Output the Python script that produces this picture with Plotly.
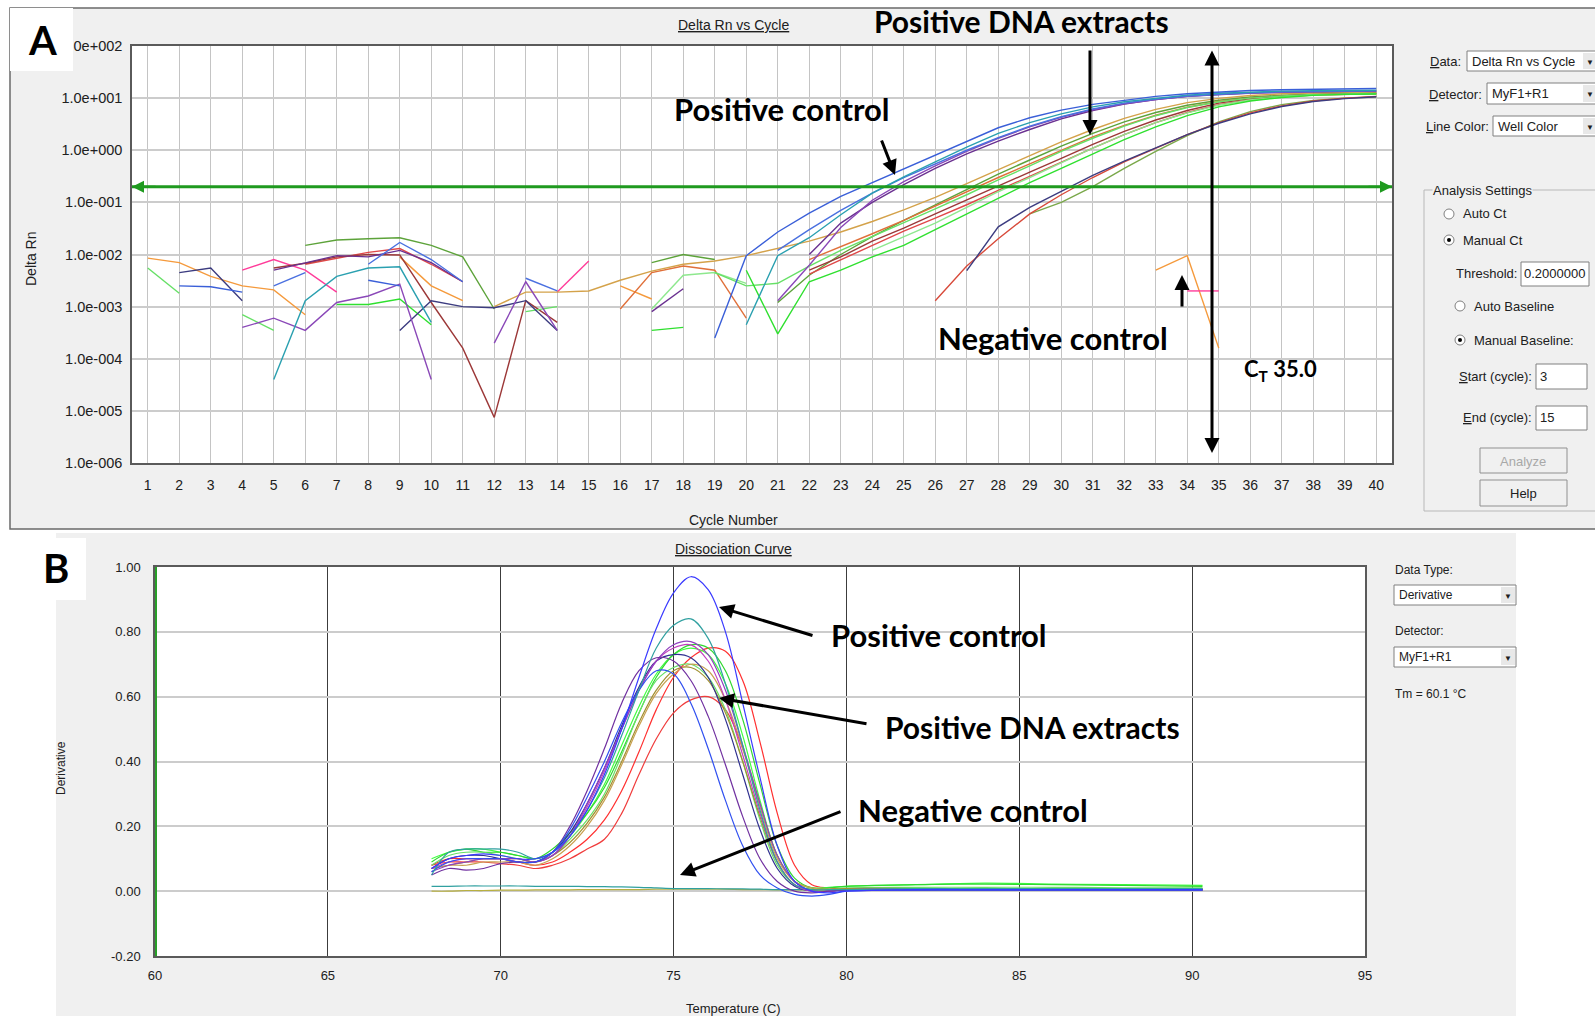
import plotly.graph_objects as go

W, H = 1595, 1016

# ---------------- DATA : panel A (Delta Rn vs Cycle) ----------------
cycles = list(range(1, 41))
a_tick_vals = [1e-6, 1e-5, 1e-4, 1e-3, 1e-2, 1e-1, 1e0, 1e1, 1e2]
a_tick_text = ["1.0e-006", "1.0e-005", "1.0e-004", "1.0e-003", "1.0e-002",
               "1.0e-001", "1.0e+000", "1.0e+001", "1.0e+002"]
threshold = 0.2
ct_label = "35.0"

A_pc_blue = [None, 0.0025, 0.0024, 0.0019, None, None, None, 0.0032, 0.0025, None,
             None, None, None, None, None, None, None, None, 0.00025, 0.0095,
             0.027, 0.062, 0.13, 0.24, 0.43, 0.8, 1.5, 2.7, 4.2, 5.9,
             7.6, 9.2, 10.8, 12.1, 13.2, 14.0, 14.5, 14.9, 15.1, 15.3]
A_teal = [None, None, None, None, 0.00004, 0.0013, 0.0038, 0.0055, 0.0058, 0.0005,
          None, None, None, None, None, None, None, None, None, 0.00045,
          0.0095, 0.021, 0.058, 0.15, 0.31, 0.6, 1.15, 2.1, 3.4, 5.0,
          6.8, 8.5, 10.0, 11.4, 12.4, 13.1, 13.6, 13.9, 14.1, 14.2]
A_purple = [None, None, None, 0.0004, 0.0006, 0.00035, 0.0012, 0.0016, 0.0027, 0.00004,
            None, 0.0002, 0.0030, 0.00035, None, None, None, None, None, None,
            0.0013, 0.0062, 0.033, 0.11, 0.25, 0.5, 0.95, 1.7, 2.8, 4.3,
            6.0, 7.8, 9.4, 10.8, 11.8, 12.5, 13.0, 13.3, 13.5, 13.6]
A_navy = [None, 0.0045, 0.0055, 0.0013, None, None, None, None, 0.00035, 0.0013,
          0.001, 0.00095, 0.0013, 0.00035, None, None, None, None, None, None,
          None, None, None, None, None, None, 0.0049, 0.034, 0.08, 0.16,
          0.33, 0.62, 1.1, 2.0, 3.3, 5.0, 6.9, 8.6, 9.8, 10.6]
A_orange = [0.0085, 0.007, 0.0038, 0.0025, 0.0021, 0.0007, None, None, 0.009, 0.0025,
            0.0013, None, None, None, None, 0.0025, 0.0014, None, None, None,
            None, None, None, None, None, None, None, None, None, None,
            None, None, 0.005, 0.0095, 0.00016, None, None, None, None, None]
A_tan = [None, None, None, None, None, None, None, None, None, None,
         None, 0.001, 0.0019, 0.0019, 0.002, 0.0032, 0.0048, 0.0065, 0.0075, 0.0095,
         0.013, 0.018, 0.027, 0.043, 0.072, 0.125, 0.23, 0.43, 0.8, 1.45,
         2.5, 4.1, 6.1, 8.2, 9.9, 11.2, 12.1, 12.7, 13.0, 13.2]
A_red = [None, None, None, None, None, 0.0065, 0.0085, 0.011, 0.013, 0.0065,
         0.003, None, None, None, None, None, None, None, None, None,
         None, 0.0042, 0.008, 0.015, 0.028, 0.05, 0.09, 0.17, 0.32, 0.6,
         1.1, 2.0, 3.4, 5.3, 7.5, 9.3, 10.6, 11.4, 11.9, 12.1]
A_brown = [None, None, None, None, 0.0055, 0.0068, 0.009, 0.01, 0.0098, 0.0012,
           0.00016, 0.0000075, 0.0013, 0.0005, None, None, None, None, None, None,
           None, 0.005, 0.009, 0.018, 0.032, 0.06, 0.11, 0.2, 0.38, 0.7,
           1.3, 2.3, 3.8, 5.8, 8.0, 9.8, 11.0, 11.8, 12.2, 12.4]
A_red_late = [None, None, None, None, None, None, None, None, None, None,
              None, None, None, None, None, None, None, None, None, None,
              None, None, None, None, None, 0.0013, 0.006, 0.02, 0.06, 0.14,
              0.3, 0.6, 1.1, 2.0, 3.4, 5.2, 7.1, 8.8, 10.0, 10.8]
A_green = [None, None, None, None, None, None, 0.0011, 0.0011, 0.0014, 0.00045,
           None, None, None, None, None, None, 0.00035, 0.0004, None, 0.005,
           0.0003, 0.003, 0.005, 0.009, 0.015, 0.03, 0.06, 0.12, 0.24, 0.45,
           0.85, 1.6, 2.8, 4.6, 6.8, 8.8, 10.3, 11.3, 11.8, 12.0]
A_lightgreen = [0.0055, 0.0018, None, 0.0007, 0.00035, None, None, None, None, None,
                None, None, 0.0008, 0.001, None, None, None, None, 0.0045, 0.0025,
                0.0028, 0.006, 0.012, 0.022, 0.04, 0.075, 0.14, 0.27, 0.5, 0.95,
                1.7, 2.9, 4.6, 6.6, 8.5, 10.0, 11.0, 11.7, 12.0, 12.2]
A_olive = [None, None, None, None, None, 0.015, 0.019, 0.02, 0.021, 0.015,
           0.009, 0.0009, None, None, None, None, 0.007, 0.01, 0.008, None,
           0.0012, 0.004, 0.01, 0.022, 0.045, 0.09, 0.18, 0.35, 0.65, 1.2,
           2.1, 3.5, 5.3, 7.3, 9.1, 10.5, 11.4, 12.0, 12.3, 12.5]
A_olive_late = [None, None, None, None, None, None, None, None, None, None,
                None, None, None, None, None, None, None, None, None, None,
                None, None, None, None, None, None, None, None, 0.06, 0.1,
                0.2, 0.45, 0.95, 1.9, 3.5, 5.5, 7.5, 9.0, 10.0, 10.5]
A_pink = [None, None, None, 0.005, 0.008, 0.005, 0.0019, None, None, None,
          None, None, None, 0.0019, 0.0075, None, None, None, None, None,
          None, None, None, None, None, None, None, None, None, None,
          None, None, None, 0.002, 0.002, None, None, None, None, None]
A_salmon = [None, None, None, None, None, None, None, None, None, None,
            None, None, None, None, None, 0.0009, 0.0045, 0.006, 0.005, 0.0006,
            None, 0.008, 0.014, 0.025, 0.045, 0.085, 0.16, 0.3, 0.55, 1.0,
            1.8, 3.0, 4.7, 6.7, 8.6, 10.0, 11.0, 11.6, 11.9, 12.1]
A_darkpurple = [None, None, None, None, 0.005, 0.007, 0.0095, 0.009, 0.012, 0.007,
                0.003, None, None, None, None, None, 0.0008, 0.0022, None, None,
                None, 0.01, 0.04, 0.1, 0.22, 0.45, 0.85, 1.5, 2.5, 4.0,
                5.8, 7.7, 9.4, 10.8, 11.8, 12.5, 13.0, 13.3, 13.5, 13.6]
A_midblue = [None, None, None, None, 0.0025, 0.0045, None, 0.0065, 0.017, 0.008,
             0.003, None, 0.0035, 0.002, None, None, None, None, None, None,
             0.012, 0.03, 0.07, 0.15, 0.3, 0.55, 1.0, 1.75, 2.9, 4.4,
             6.2, 8.0, 9.6, 11.0, 12.0, 12.7, 13.2, 13.5, 13.7, 13.8]
A_palegreen = [None, None, None, None, None, None, None, None, None, None,
               None, None, None, None, None, None, 0.0009, 0.004, 0.0045, 0.0028,
               None, None, None, 0.012, 0.022, 0.04, 0.08, 0.16, 0.3, 0.58,
               1.1, 2.0, 3.4, 5.2, 7.3, 9.2, 10.5, 11.4, 11.9, 12.1]

# ---------------- DATA : panel B (Dissociation Curve) ----------------
temps = [68, 68.5, 69, 69.5, 70, 70.5, 71, 71.5, 72, 72.5, 73, 73.5, 74, 74.5, 75,
         75.5, 76, 76.5, 77, 77.5, 78, 78.5, 79, 79.5, 80, 82, 84, 86, 88, 90.3]
b_tick_vals = [-0.2, 0.0, 0.2, 0.4, 0.6, 0.8, 1.0]
b_tick_text = ["-0.20", "0.00", "0.20", "0.40", "0.60", "0.80", "1.00"]
temp_ticks = [60, 65, 70, 75, 80, 85, 90, 95]

B_pc_blue = [0.07, 0.10, 0.11, 0.115, 0.11, 0.10, 0.10, 0.12, 0.17, 0.25, 0.36, 0.50, 0.66, 0.81, 0.92,
             0.97, 0.93, 0.80, 0.58, 0.35, 0.14, 0.03, 0.0, -0.005, 0.0, 0.005, 0.005, 0.005, 0.005, 0.005]
B_teal = [0.05, 0.12, 0.13, 0.13, 0.13, 0.12, 0.10, 0.12, 0.17, 0.25, 0.35, 0.48, 0.62, 0.75, 0.82,
          0.84, 0.78, 0.64, 0.45, 0.25, 0.09, 0.02, 0.005, 0.005, 0.005, 0.008, 0.008, 0.008, 0.008, 0.008]
B_blue2 = [0.06, 0.09, 0.10, 0.10, 0.10, 0.09, 0.09, 0.12, 0.19, 0.29, 0.40, 0.52, 0.62, 0.68, 0.67,
           0.58, 0.44, 0.28, 0.14, 0.05, 0.01, -0.01, -0.015, -0.01, 0.0, 0.003, 0.003, 0.003, 0.003, 0.003]
B_purple = [0.06, 0.08, 0.09, 0.10, 0.10, 0.10, 0.09, 0.11, 0.17, 0.27, 0.38, 0.50, 0.62, 0.71, 0.76,
            0.77, 0.73, 0.62, 0.45, 0.27, 0.11, 0.03, 0.0, 0.0, 0.005, 0.005, 0.005, 0.005, 0.005, 0.005]
B_purple2 = [0.05, 0.07, 0.065, 0.07, 0.085, 0.09, 0.09, 0.12, 0.20, 0.31, 0.44, 0.58, 0.68, 0.72, 0.71,
             0.65, 0.54, 0.39, 0.23, 0.10, 0.03, 0.0, -0.005, 0.0, 0.003, 0.004, 0.004, 0.004, 0.004, 0.004]
B_green = [0.09, 0.12, 0.13, 0.12, 0.12, 0.11, 0.10, 0.13, 0.18, 0.24, 0.32, 0.43, 0.55, 0.66, 0.73,
           0.76, 0.75, 0.68, 0.53, 0.33, 0.14, 0.04, 0.01, 0.01, 0.015, 0.02, 0.022, 0.02, 0.018, 0.015]
B_green2 = [0.08, 0.11, 0.12, 0.12, 0.11, 0.10, 0.09, 0.11, 0.16, 0.22, 0.30, 0.42, 0.55, 0.65, 0.69,
            0.70, 0.66, 0.56, 0.40, 0.22, 0.08, 0.02, 0.005, 0.005, 0.01, 0.012, 0.012, 0.012, 0.01, 0.01]
B_olive = [0.07, 0.08, 0.09, 0.10, 0.10, 0.10, 0.09, 0.11, 0.15, 0.21, 0.29, 0.40, 0.52, 0.62, 0.68,
           0.69, 0.65, 0.55, 0.40, 0.23, 0.09, 0.02, 0.005, 0.005, 0.008, 0.008, 0.008, 0.008, 0.008, 0.008]
B_red1 = [0.08, 0.09, 0.09, 0.09, 0.085, 0.08, 0.07, 0.08, 0.10, 0.13, 0.16, 0.24, 0.36, 0.47, 0.55,
          0.59, 0.60, 0.56, 0.44, 0.27, 0.11, 0.03, 0.01, 0.005, 0.005, 0.005, 0.005, 0.005, 0.005, 0.005]
B_red2 = [0.08, 0.10, 0.10, 0.10, 0.10, 0.09, 0.08, 0.09, 0.12, 0.16, 0.22, 0.31, 0.43, 0.56, 0.66,
          0.72, 0.75, 0.74, 0.65, 0.46, 0.24, 0.08, 0.02, 0.01, 0.008, 0.008, 0.008, 0.008, 0.008, 0.008]
B_navy = [0.07, 0.10, 0.11, 0.11, 0.10, 0.09, 0.09, 0.12, 0.18, 0.27, 0.38, 0.51, 0.63, 0.71, 0.73,
          0.72, 0.66, 0.53, 0.36, 0.19, 0.07, 0.015, 0.0, 0.0, 0.004, 0.004, 0.004, 0.004, 0.004, 0.004]
B_tan = [0.07, 0.08, 0.08, 0.09, 0.09, 0.09, 0.08, 0.10, 0.14, 0.20, 0.28, 0.39, 0.51, 0.61, 0.67,
         0.70, 0.68, 0.59, 0.44, 0.26, 0.10, 0.03, 0.01, 0.005, 0.005, 0.006, 0.006, 0.006, 0.006, 0.006]
B_magenta = [0.07, 0.09, 0.10, 0.10, 0.10, 0.09, 0.09, 0.11, 0.17, 0.26, 0.37, 0.50, 0.62, 0.71, 0.75,
             0.76, 0.71, 0.59, 0.42, 0.24, 0.09, 0.02, 0.0, 0.0, 0.005, 0.005, 0.005, 0.005, 0.005, 0.005]
B_green3 = [0.10, 0.12, 0.13, 0.13, 0.12, 0.11, 0.10, 0.12, 0.17, 0.24, 0.33, 0.45, 0.57, 0.67, 0.73,
            0.75, 0.73, 0.64, 0.48, 0.28, 0.11, 0.03, 0.01, 0.012, 0.015, 0.02, 0.025, 0.022, 0.02, 0.018]
B_neg_teal = [0.015, 0.015, 0.016, 0.016, 0.016, 0.016, 0.015, 0.015, 0.015, 0.014, 0.014, 0.013, 0.012, 0.01, 0.008,
              0.008, 0.008, 0.007, 0.007, 0.006, 0.005, 0.005, 0.005, 0.004, 0.004, 0.004, 0.004, 0.004, 0.004, 0.004]
B_neg_olive = [0.0, 0.0, 0.002, 0.002, 0.003, 0.003, 0.004, 0.004, 0.004, 0.005, 0.005, 0.005, 0.005, 0.006, 0.006,
               0.006, 0.006, 0.006, 0.005, 0.005, 0.004, 0.004, 0.004, 0.004, 0.004, 0.004, 0.004, 0.004, 0.004, 0.004]

# ---------------- styles ----------------
a_series = [
    (A_orange, "#f59a3c"), (A_pink, "#ff3c9a"), (A_olive, "#5da33a"), (A_olive_late, "#7aa84a"),
    (A_red_late, "#d84a3a"), (A_salmon, "#e0703a"), (A_red, "#e04848"), (A_brown, "#9c3838"),
    (A_palegreen, "#8ee88e"), (A_lightgreen, "#66e066"), (A_green, "#2fe02f"),
    (A_tan, "#d4a24a"), (A_navy, "#3c3c80"), (A_darkpurple, "#6a3090"), (A_purple, "#8a48b8"),
    (A_midblue, "#4a70e0"), (A_teal, "#2aa0b0"), (A_pc_blue, "#3a5fd8"),
]
b_series = [
    (B_neg_olive, "#b8b040"), (B_neg_teal, "#30a0a0"),
    (B_red2, "#ff3030"), (B_red1, "#f03c3c"), (B_green3, "#40ff40"), (B_green, "#30d830"),
    (B_green2, "#66e066"), (B_olive, "#a09030"), (B_tan, "#c8a050"), (B_navy, "#303090"),
    (B_magenta, "#c040c0"), (B_purple, "#9040c0"), (B_purple2, "#7030a0"),
    (B_blue2, "#3050f0"), (B_teal, "#30a0a0"), (B_pc_blue, "#3a3aff"),
]

UI = "Liberation Sans Narrow, Arial Narrow, Liberation Sans, Arial, sans-serif"
BIG = "Lato, Open Sans, sans-serif"
GRAY_BG = "#f0f0f0"

fig = go.Figure()

for vals, col in a_series:
    fig.add_trace(go.Scatter(x=cycles, y=vals, mode="lines", line=dict(color=col, width=1.4),
                             connectgaps=False, xaxis="x", yaxis="y", hoverinfo="skip", showlegend=False))
# threshold
fig.add_trace(go.Scatter(x=[0.5, 40.5], y=[threshold, threshold], mode="lines",
                         line=dict(color="#1f9a1f", width=3), xaxis="x", yaxis="y",
                         hoverinfo="skip", showlegend=False, cliponaxis=False))

for vals, col in b_series:
    fig.add_trace(go.Scatter(x=temps, y=vals, mode="lines", line=dict(color=col, width=1.2, shape="spline"),
                             xaxis="x2", yaxis="y2", hoverinfo="skip", showlegend=False))


def px(x):
    return x / W


def py(y):
    return 1 - y / H


shapes = []
annotations = []


def rect(x0, y0, x1, y1, fill, line=None, lw=1, layer="below"):
    shapes.append(dict(type="rect", xref="paper", yref="paper", x0=px(x0), x1=px(x1), y0=py(y1), y1=py(y0),
                       fillcolor=fill, line=dict(color=line if line else "rgba(0,0,0,0)", width=lw if line else 0),
                       layer=layer))


def text(x, y, s, size=12, color="#202020", xanchor="left", family=UI, bold=False, bg=None, angle=0):
    annotations.append(dict(x=px(x), y=py(y), xref="paper", yref="paper", text=s, showarrow=False,
                            xanchor=xanchor, yanchor="middle", textangle=angle,
                            font=dict(family=family, size=size, color=color,
                                      weight="bold" if bold else "normal"),
                            bgcolor=bg, borderpad=0))


def arrow(hx, hy, tx, ty, both=False, width=3):
    annotations.append(dict(x=px(hx), y=py(hy), xref="paper", yref="paper", ax=tx - hx, ay=ty - hy,
                            text="", showarrow=True, arrowhead=2, arrowsize=1, arrowwidth=width,
                            arrowcolor="#000000", arrowside="end+start" if both else "end",
                            startarrowhead=2, startarrowsize=1))


def radio(cx, cy, selected):
    shapes.append(dict(type="circle", xref="paper", yref="paper", x0=px(cx - 5), x1=px(cx + 5),
                       y0=py(cy + 5), y1=py(cy - 5), fillcolor="#ffffff", line=dict(color="#808080", width=1),
                       layer="above"))
    if selected:
        shapes.append(dict(type="circle", xref="paper", yref="paper", x0=px(cx - 2), x1=px(cx + 2),
                           y0=py(cy + 2), y1=py(cy - 2), fillcolor="#000000", line=dict(width=0),
                           layer="above"))


def dropdown(x0, y0, x1, y1, s, size=12):
    rect(x0, y0, x1, y1, "#ffffff", "#808080", 1, layer="above")
    rect(x1 - 15, y0 + 2, x1 - 1, y1 - 2, "#e8e8e8", None, layer="above")
    text(x0 + 4, (y0 + y1) / 2, s, size=size)
    text(x1 - 8, (y0 + y1) / 2 + 1, "▼", size=8, xanchor="center")


# backgrounds
rect(10, 8, 1600, 529, GRAY_BG, "#6a6a6a", 1.5)
rect(132, 46, 1392, 463, "#ffffff")
rect(56, 533, 1516, 1020, GRAY_BG)
rect(155, 567, 1365, 956, "#ffffff")

# letter boxes
rect(10, 8, 73, 71, "#ffffff", layer="above")
text(42, 40, "A", size=40, family=BIG, bold=True, color="#000000", xanchor="center")
rect(25, 538, 86, 600, "#ffffff", layer="above")
text(56, 568, "B", size=40, family=BIG, bold=True, color="#000000", xanchor="center")

# panel A titles
text(733, 25, "<u>Delta Rn vs Cycle</u>", size=14, xanchor="center")
text(733, 520, "Cycle Number", size=14, xanchor="center")
text(31, 259, "Delta Rn", size=14, xanchor="center", angle=-90)

# panel B titles
text(733, 549, "<u>Dissociation Curve</u>", size=14, xanchor="center")
text(733, 1008, "Temperature (C)", size=13, xanchor="center")
text(61, 768, "Derivative", size=12, xanchor="center", angle=-90)

# green y line panel B
shapes.append(dict(type="line", xref="x2", yref="y2", x0=60, x1=60, y0=-0.2, y1=1.0,
                   line=dict(color="#28a028", width=4), layer="above"))

# threshold arrowheads
for xh, off in [(0.5, 25), (40.5, -25)]:
    annotations.append(dict(x=xh, y=-0.69897, xref="x", yref="y", ax=off, ay=0, text="", showarrow=True,
                            arrowhead=2, arrowsize=1.2, arrowwidth=2, arrowcolor="#1f9a1f"))

# right panel A
text(1462, 61, "<u>D</u>ata:", size=13, xanchor="right")
dropdown(1467, 51, 1598, 71, "Delta Rn vs Cycle", 13)
text(1483, 94, "<u>D</u>etector:", size=13, xanchor="right")
dropdown(1487, 83, 1598, 104, "MyF1+R1", 13)
text(1490, 126, "<u>L</u>ine Color:", size=13, xanchor="right")
dropdown(1493, 116, 1598, 136, "Well Color", 13)

shapes.append(dict(type="rect", xref="paper", yref="paper", x0=px(1424), x1=px(1600), y0=py(511), y1=py(190),
                   line=dict(color="#b8b8b8", width=1), fillcolor="rgba(0,0,0,0)", layer="above"))
text(1432, 190, "Analysis Settings", size=13, bg=GRAY_BG)
radio(1449, 214, False)
text(1462, 214, "Auto Ct", size=13)
radio(1449, 240, True)
text(1462, 240, "Manual Ct", size=13)
text(1518, 274, "Threshold:", size=13, xanchor="right")
rect(1521, 262, 1589, 286, "#ffffff", "#808080", layer="above")
text(1523, 274, "0.2000000", size=13)
radio(1460, 306, False)
text(1473, 306, "Auto Baseline", size=13)
radio(1460, 340, True)
text(1473, 340, "Manual Baseline:", size=13)
text(1533, 376, "<u>S</u>tart (cycle):", size=13, xanchor="right")
rect(1536, 364, 1587, 389, "#ffffff", "#808080", layer="above")
text(1539, 376, "3", size=13)
text(1533, 418, "<u>E</u>nd (cycle):", size=13, xanchor="right")
rect(1536, 406, 1587, 430, "#ffffff", "#808080", layer="above")
text(1539, 418, "15", size=13)
rect(1480, 448, 1567, 473, GRAY_BG, "#909090", layer="above")
text(1523, 461, "Analyze", size=13, color="#a8a8a8", xanchor="center")
rect(1480, 480, 1567, 506, GRAY_BG, "#909090", layer="above")
text(1523, 493, "Help", size=13, xanchor="center")

# right panel B
text(1394, 570, "Data Type:", size=12)
dropdown(1394, 585, 1516, 605, "Derivative")
text(1394, 631, "Detector:", size=12)
dropdown(1394, 647, 1516, 667, "MyF1+R1")
text(1394, 694, "Tm = 60.1 °C", size=12)

# big annotation labels panel A
BS = 31
text(1021, 21, "Positive DNA extracts", size=30, family=BIG, bold=True, color="#000000", xanchor="center")
text(782, 109, "Positive control", size=BS, family=BIG, bold=True, color="#000000", xanchor="center")
text(1053, 338, "Negative control", size=BS, family=BIG, bold=True, color="#000000", xanchor="center")
text(1243, 370, "C<sub>T</sub> " + ct_label, size=22, family=BIG, bold=True, color="#000000")
arrow(1090, 135, 1090, 49)
arrow(895, 175, 881, 139)
arrow(1212, 453, 1212, 49, both=True)
arrow(1182, 275, 1182, 308)

# big annotation labels panel B
text(939, 635, "Positive control", size=BS, family=BIG, bold=True, color="#000000", xanchor="center")
text(1032, 727, "Positive DNA extracts", size=30, family=BIG, bold=True, color="#000000", xanchor="center")
text(973, 810, "Negative control", size=BS, family=BIG, bold=True, color="#000000", xanchor="center")
arrow(719, 607, 814, 636)
arrow(719, 698, 868, 724)
arrow(680, 875, 842, 811)

fig.update_layout(
    width=W, height=H, margin=dict(l=0, r=0, t=0, b=0, pad=0, autoexpand=False),
    paper_bgcolor="#ffffff", plot_bgcolor="rgba(0,0,0,0)",
    showlegend=False, hovermode=False,
    font=dict(family=UI, size=13, color="#202020"),
    xaxis=dict(domain=[px(132), px(1392)], range=[0.5, 40.5], tickmode="array", tickvals=cycles,
               showgrid=True, gridcolor="#c4c4c4", gridwidth=1, showline=True, linecolor="#5a5a5a",
               linewidth=1.5, mirror=True, ticks="", ticklabelstandoff=8, zeroline=False,
               tickfont=dict(size=14), anchor="y", automargin=False),
    yaxis=dict(domain=[py(463), py(46)], type="log", range=[-6, 2], tickmode="array",
               tickvals=a_tick_vals, ticktext=a_tick_text, showgrid=True, gridcolor="#cccccc",
               gridwidth=2, showline=True, linecolor="#5a5a5a", linewidth=1.5, mirror=True,
               ticks="", ticklabelstandoff=5, zeroline=False, tickfont=dict(size=14.5), anchor="x",
               automargin=False),
    xaxis2=dict(domain=[px(155), px(1365)], range=[60, 95], tickmode="array", tickvals=temp_ticks,
                showgrid=True, gridcolor="#3c3c3c", gridwidth=1, showline=True, linecolor="#5a5a5a",
                linewidth=1.5, mirror=True, ticks="", ticklabelstandoff=7, zeroline=False,
                tickfont=dict(size=13), anchor="y2", automargin=False),
    yaxis2=dict(domain=[py(956), py(567)], range=[-0.2, 1.0], tickmode="array", tickvals=b_tick_vals,
                ticktext=b_tick_text, showgrid=True, gridcolor="#cccccc", gridwidth=2, showline=True,
                linecolor="#5a5a5a", linewidth=1.5, mirror=True, ticks="", ticklabelstandoff=10,
                zeroline=False, tickfont=dict(size=13), anchor="x2", automargin=False),
    shapes=shapes, annotations=annotations,
)

POST = ("document.documentElement.style.margin='0';document.documentElement.style.padding='0';"
        "document.documentElement.style.overflow='hidden';"
        "document.body.style.margin='0';document.body.style.padding='0';document.body.style.overflow='hidden';")
fig.write_html("out.html", config={"displayModeBar": False}, post_script=POST)
